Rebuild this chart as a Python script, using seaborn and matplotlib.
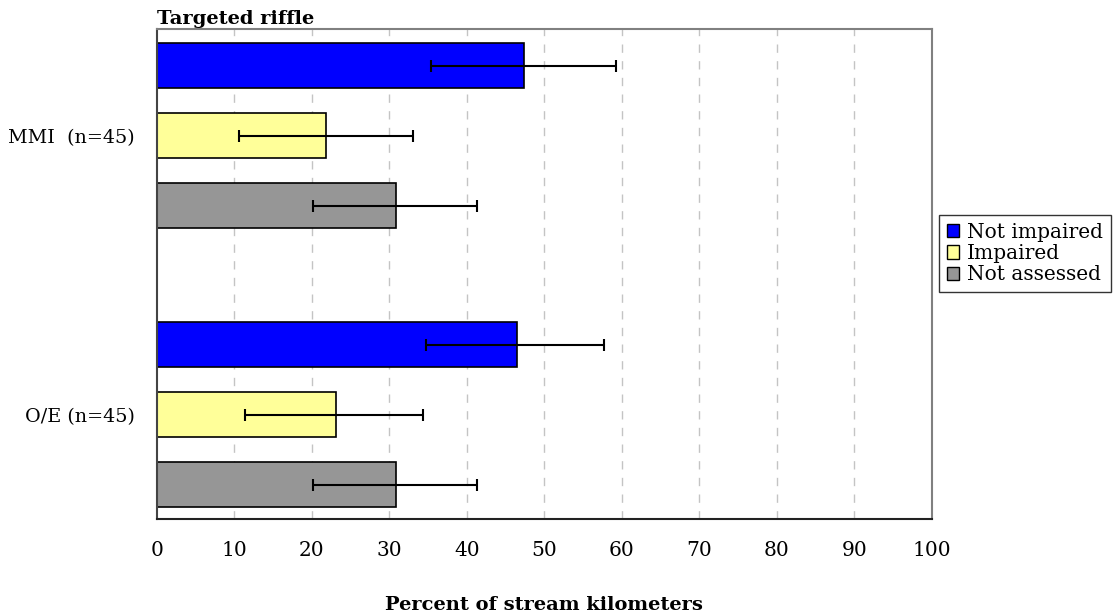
import numpy as np
import pandas as pd
import matplotlib
matplotlib.use("Agg")
import matplotlib.pyplot as plt
import seaborn as sns
from matplotlib.patches import Patch

# ---- data ----
indices = ["MMI  (n=45)", "O/E (n=45)"]
statuses = ["Not impaired", "Impaired", "Not assessed"]
values_mmi = [47.4, 21.8, 30.9]
values_oe = [46.4, 23.1, 30.9]
lower_mmi = [35.4, 10.6, 20.1]
upper_mmi = [59.2, 33.0, 41.3]
lower_oe = [34.7, 11.4, 20.1]
upper_oe = [57.7, 34.4, 41.3]
colors = ["#0000FF", "#FFFF99", "#969696"]
xticks = [0, 10, 20, 30, 40, 50, 60, 70, 80, 90, 100]

df = pd.DataFrame({
    "index": [indices[0]] * 3 + [indices[1]] * 3,
    "status": statuses * 2,
    "value": values_mmi + values_oe,
    "lower": lower_mmi + lower_oe,
    "upper": upper_mmi + upper_oe,
})

sns.set_style("white")
plt.rcParams["font.family"] = ["DejaVu Serif"]
plt.rcParams["text.color"] = "black"
plt.rcParams["axes.labelcolor"] = "black"
plt.rcParams["xtick.color"] = "black"
plt.rcParams["ytick.color"] = "black"

fig = plt.figure(figsize=(11.14, 6.13), dpi=100)
ax = fig.add_axes([0.1408, 0.1533, 0.8366 - 0.1408, 0.9522 - 0.1533])

sns.barplot(data=df, x="value", y="index", hue="status", order=indices,
            hue_order=statuses, palette=colors, orient="h", errorbar=None,
            width=0.753, gap=0.358, edgecolor="black", linewidth=1.2,
            saturation=1, legend=False, ax=ax)

# error bars positioned from bar patches
for cont, st in zip(ax.containers, statuses):
    for bar, idx in zip(cont, indices):
        row = df[(df["index"] == idx) & (df["status"] == st)].iloc[0]
        yc = bar.get_y() + bar.get_height() / 2
        v = row["value"]
        ax.errorbar(v, yc, xerr=[[v - row["lower"]], [row["upper"] - v]],
                    fmt="none", ecolor="black", elinewidth=1.5, capsize=4.5,
                    capthick=1.5, zorder=5)

ax.set_xlim(0, 100)
ax.set_ylim(1.374, -0.381)
ax.set_xticks(xticks)
ax.set_xticklabels([str(t) for t in xticks], fontsize=14.5)
ax.tick_params(axis="x", direction="out", length=6, width=1, color="#333333", pad=10)
ax.tick_params(axis="y", length=0, pad=16, labelsize=13.8)
for t in xticks[1:-1]:
    ax.axvline(t, color="#c4c4c4", linestyle=(0, (6, 6)), linewidth=1, zorder=0)
ax.set_axisbelow(True)

for s in ["top", "right"]:
    ax.spines[s].set_color("#808080")
    ax.spines[s].set_linewidth(1.5)
ax.spines["left"].set_color("#444444")
ax.spines["left"].set_linewidth(1.5)
ax.spines["bottom"].set_color("#222222")
ax.spines["bottom"].set_linewidth(1.5)

ax.set_ylabel("")
ax.set_xlabel("Percent of stream kilometers", fontsize=14, fontweight="bold", labelpad=26)
ax.set_title("Targeted riffle", loc="left", fontsize=14, fontweight="bold", pad=4)

handles = [Patch(facecolor=c, edgecolor="black", linewidth=1) for c in colors]
fig.legend(handles, statuses, loc="upper left", bbox_to_anchor=(939 / 1114, 1 - 215 / 613),
           frameon=True, fancybox=False, edgecolor="black", fontsize=14.5,
           handlelength=0.62, handleheight=0.62, handletextpad=0.4,
           borderpad=0.38, labelspacing=0.12, borderaxespad=0)

fig.savefig("out.png", dpi=100)
